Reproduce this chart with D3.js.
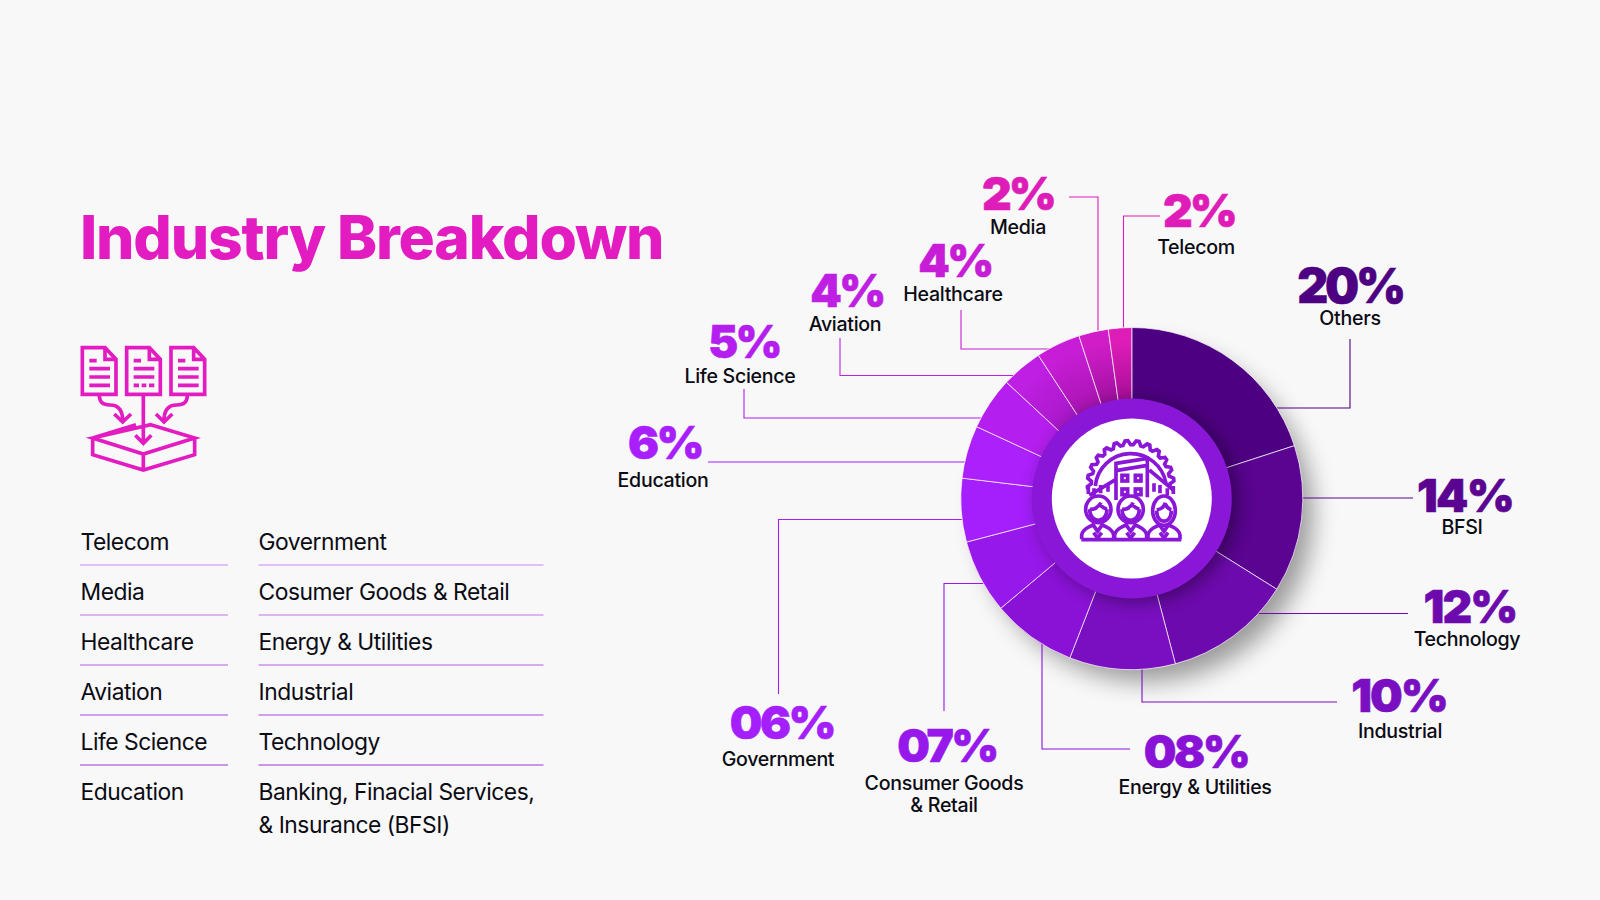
<!DOCTYPE html>
<html><head><meta charset="utf-8">
<script src="https://cdnjs.cloudflare.com/ajax/libs/d3/7.8.5/d3.min.js"></script>
<style>html,body{margin:0;padding:0;background:#f8f8f8;overflow:hidden}svg{display:block}text{font-family:Inter,"Noto Sans",sans-serif}</style>
</head><body><svg id="c" width="1600" height="900"></svg>
<script>
// ---- data ----
const categories = ["Others","BFSI","Technology","Industrial","Energy & Utilities","Consumer Goods|& Retail","Government","Education","Life Science","Aviation","Healthcare","Media","Telecom"];
const percentLabels = ["20%","14%","12%","10%","08%","07%","06%","6%","5%","4%","4%","2%","2%"];
// slice widths as drawn (measured from slice angles in the picture; the picture's slices differ slightly from its printed labels)
const sliceShares = [20,13.9,12,10,8,7,6,5,5,3.9,4.2,2.8,2.2];
const listLeft = ["Telecom","Media","Healthcare","Aviation","Life Science","Education"];
const listRight = ["Government","Cosumer Goods & Retail","Energy & Utilities","Industrial","Technology","Banking, Finacial Services,","& Insurance (BFSI)"];
const title = "Industry Breakdown";

// ---- styles and layout ----
const sliceColors = ["#4e0082","#5a0491","#6d0aad","#7a0fc1","#8a12d7","#9718ea","#a41ffb","#ab20fb","#b41eee","#bf1fe2","#c71dd6","#d01dc8","#de1cb8"];
const sliceInner = ["#4e0082","#5a0491","#6d0aad","#7a0fc1","#8a12d7","#9718ea","#a41ffb","#ab20fb","#b41eee","#a818c8","#a814b0","#a010a0","#a80e98"];
const textColors = ["#4e0082","#5a0491","#6d0aad","#7a0fc1","#8a12d7","#9718ea","#a41ffb","#a81ffb","#b41eee","#bf1fe2","#c71dd6","#de1cb8","#e01cb8"];
const cx=1131.8, cy=498.5, R=171, ringR=100, whiteR=80;
const magenta="#e21cc0", ringCol="#8a16d8";
// label centres and leader elbows; last leader leg runs to the pie rim
const layout = [
 {px:1350,py:286,fs:48,ls:-3.2,sx:1350,sy:318,pts:[[1350,339],[1350,408]],dir:"h"},
 {px:1465,py:495,fs:46,ls:-1.7,sx:1462,sy:527,pts:[[1413,498]],dir:"h"},
 {px:1470,py:606,fs:46,ls:-1.9,sx:1467,sy:639,pts:[[1408,613.5]],dir:"h"},
 {px:1399,py:695,fs:46,ls:-2,sx:1400,sy:731,pts:[[1337,702],[1142,702]],dir:"v"},
 {px:1196,py:751,fs:46,ls:-2.5,sx:1195,sy:787,pts:[[1130,749],[1042,749]],dir:"v"},
 {px:947,py:745,fs:46,ls:-2.5,sx:944,sy:783,pts:[[944,711],[944,583.5]],dir:"h"},
 {px:782,py:722,fs:46,ls:-2.5,sx:778,sy:759,pts:[[778.5,694],[778.5,519.5]],dir:"h"},
 {px:665,py:442,fs:46,ls:-2.6,sx:663,sy:480,pts:[[708,462]],dir:"h"},
 {px:744,py:342,fs:45,ls:-2.6,sx:740,sy:376,pts:[[744,389],[744,418]],dir:"h"},
 {px:847,py:291,fs:45,ls:-2.6,sx:845,sy:324,pts:[[840,338],[840,375.5]],dir:"h"},
 {px:955,py:261,fs:45,ls:-2.6,sx:953,sy:294,pts:[[961,310],[961,349]],dir:"h"},
 {px:1018,py:193,fs:46,ls:-2.8,sx:1018,sy:226.5,pts:[[1069,197],[1098,197]],dir:"v"},
 {px:1199,py:210,fs:46,ls:-2.8,sx:1196,sy:247,pts:[[1160,216],[1123.5,216]],dir:"v"}
];

const svg=d3.select("#c");
svg.append("rect").attr("width",1600).attr("height",900).attr("fill","#f8f8f8");
const defs=svg.append("defs");
const f1=defs.append("filter").attr("id","pieShadow").attr("x","-30%").attr("y","-30%").attr("width","160%").attr("height","160%");
f1.append("feGaussianBlur").attr("stdDeviation",12);
const f2=defs.append("filter").attr("id","ringShadow").attr("x","-40%").attr("y","-40%").attr("width","180%").attr("height","180%");
f2.append("feGaussianBlur").attr("stdDeviation",9);
sliceColors.forEach((c,i)=>{
  const rg=defs.append("radialGradient").attr("id","sl"+i).attr("gradientUnits","userSpaceOnUse").attr("cx",0).attr("cy",0).attr("r",R);
  rg.append("stop").attr("offset","0.58").attr("stop-color",sliceInner[i]);
  rg.append("stop").attr("offset","0.92").attr("stop-color",c);
});

// title
svg.append("text").attr("x",80).attr("y",259).attr("font-size",60.5).attr("font-weight",800).attr("letter-spacing",-1.17).attr("fill",magenta).text(title);

// document icon
const ic=svg.append("g").attr("transform","translate(60,330) scale(0.3333)").attr("fill","none").attr("stroke",magenta).attr("stroke-width",11);
[0,133,266].forEach((dx,i)=>{
  const d=ic.append("g").attr("transform",`translate(${dx},0)`);
  d.append("path").attr("d","M67,53H135L168,88V193H67Z M135,53V88H168");
  d.append("path").attr("d",i===1?"M88,92H110 M88,116H150 M88,141H150 M88,166H104 M112,166H126 M134,166H150":"M88,92H110 M88,116H150 M88,141H150 M88,166H150");
});
ic.append("path").attr("d","M118,196C118,222 135,225 150,225C175,225 188,240 188,272 M163,252L188,276L213,252 M250,196V340 M226,316L250,340L274,316 M382,196C382,222 365,225 350,225C325,225 312,240 312,272 M288,252L312,276L337,252 M98,324L228,284 M272,284L404,324L250,372L98,324Z M98,324V374L250,420L404,374V324 M250,372V420");

// list
const rowY=d3.scalePoint().domain(d3.range(6)).range([542,792]);
const listG=svg.append("g").attr("font-size",22.8).attr("fill","#0b0b14").attr("letter-spacing",-0.46);
listG.selectAll(".l").data(listLeft).join("text").attr("x",80.5).attr("y",(d,i)=>rowY(i)+7.5).text(d=>d);
listG.selectAll(".r").data(listRight).join("text").attr("x",258.5).attr("y",(d,i)=>i<6?rowY(i)+7.5:rowY(5)+40.5).text(d=>d);
const rules=svg.append("g").attr("stroke-width",1.1);
d3.range(5).forEach(i=>{
  const col=d3.interpolateRgb("#c985f5","#9a35dc")(i/4);
  rules.append("line").attr("x1",80).attr("x2",228).attr("y1",rowY(i)+23).attr("y2",rowY(i)+23).attr("stroke",col);
  rules.append("line").attr("x1",258.5).attr("x2",543.5).attr("y1",rowY(i)+23).attr("y2",rowY(i)+23).attr("stroke",col);
});

// pie shadow
svg.append("circle").attr("cx",cx+14).attr("cy",cy+16).attr("r",R-4).attr("fill","#000").attr("opacity",0.38).attr("filter","url(#pieShadow)");

// leaders: end on the rim
const leaders=svg.append("g").attr("fill","none").attr("stroke-width",1.1);
layout.forEach((l,i)=>{
  const last=l.pts[l.pts.length-1];
  let end;
  if(l.dir==="h"){const dy=last[1]-cy;const dx=Math.sqrt(R*R-dy*dy);end=[cx+(last[0]>cx?dx:-dx)-(last[0]>cx?1:-1),last[1]];}
  else{const dx=last[0]-cx;const dy=Math.sqrt(R*R-dx*dx);end=[last[0],cy+(last[1]>cy?dy:-dy)];}
  leaders.append("path").attr("d",d3.line()([...l.pts,end])).attr("stroke",textColors[i]);
});

// pie
const pie=d3.pie().value(d=>d).sort(null);
const arc=d3.arc().innerRadius(ringR-4).outerRadius(R);
const g=svg.append("g").attr("transform",`translate(${cx},${cy})`);
g.selectAll("path").data(pie(sliceShares)).join("path").attr("d",arc).attr("fill",(d,i)=>`url(#sl${i})`).attr("stroke","#fff").attr("stroke-width",0.7);

// ring with shadow cast on slices
const clipId="pieClip";
defs.append("clipPath").attr("id",clipId).append("circle").attr("r",R-1);
g.append("g").attr("clip-path",`url(#${clipId})`).append("circle").attr("cx",6).attr("cy",3).attr("r",ringR).attr("fill","#000").attr("opacity",0.42).attr("filter","url(#ringShadow)");
g.append("circle").attr("r",ringR).attr("fill",ringCol);
g.append("circle").attr("r",whiteR).attr("fill","#fff");

// centre icon
const ci=svg.append("g").attr("transform","translate(1040,420) scale(0.3333)").attr("fill","none").attr("stroke",ringCol).attr("stroke-width",11).attr("stroke-linejoin","miter");
const gear=[]; const gc=[272,192], gr0=118, gr1=130, teeth=13;
const ga=d3.scaleLinear().domain([0,teeth*4]).range([-Math.PI*1.04,Math.PI*0.04]);
d3.range(teeth*4+1).forEach(k=>{const r=(k%4===0||k%4===1)?gr1:gr0;const a=ga(k);gear.push([gc[0]+r*Math.cos(a),gc[1]+r*Math.sin(a)]);});
ci.append("path").attr("d",d3.line()(gear));
ci.append("path").attr("d","M166,198A107,107 0 0 1 378,190 M145,198V222 M400,198V222");
ci.append("path").attr("d","M228,240V130L322,115V232 M228,152L322,136 M148,226L228,178 M328,150L402,212");
ci.selectAll(".w").data([[246,166],[286,166],[246,207],[286,207]]).join("rect").attr("x",d=>d[0]).attr("y",d=>d[1]).attr("width",17).attr("height",17);
ci.append("path").attr("d","M162,225V205 M182,220V195 M204,215V190 M342,215V190 M360,220V195 M382,225V205");
[[173,50],[272,50],[372,50]].forEach(s=>{
  ci.append("path").attr("fill","#fff").attr("d",`M${s[0]-s[1]+2},358V345C${s[0]-s[1]+5},325 ${s[0]-25},322 ${s[0]-14},314L${s[0]},334L${s[0]+14},314C${s[0]+25},322 ${s[0]+s[1]-5},325 ${s[0]+s[1]-2},345V358 M${s[0]-12},338L${s[0]},354L${s[0]+12},338`);
});
[[175,268],[272,268],[372,272]].forEach((h,i)=>{
  ci.append("ellipse").attr("cx",h[0]).attr("cy",h[1]).attr("rx",i===2?34:38).attr("ry",i===2?44:40).attr("fill","#fff");
  ci.append("ellipse").attr("cx",h[0]).attr("cy",h[1]+6).attr("rx",i===2?24:26).attr("ry",30).attr("fill","#fff").attr("stroke-width",0);
  ci.append("path").attr("d",i===2?`M${h[0]-22},${h[1]-2}Q${h[0]},${h[1]-6} ${h[0]+4},${h[1]-24} M${h[0]+4},${h[1]-20}Q${h[0]+10},${h[1]-6} ${h[0]+22},${h[1]-2} M${h[0]-22},${h[1]}C${h[0]-22},${h[1]+42} ${h[0]+22},${h[1]+42} ${h[0]+22},${h[1]}`:`M${h[0]-26},${h[1]}Q${h[0]-5},${h[1]+2} ${h[0]+8},${h[1]-20} M${h[0]+5},${h[1]-14}Q${h[0]+14},${h[1]-4} ${h[0]+26},${h[1]} M${h[0]-26},${h[1]}C${h[0]-26},${h[1]+44} ${h[0]+26},${h[1]+44} ${h[0]+26},${h[1]}`);
});
ci.append("path").attr("d","M124,359H424");

// labels
const lab=svg.append("g").attr("text-anchor","middle");
layout.forEach((l,i)=>{
  lab.append("text").attr("x",l.px).attr("y",l.py+l.fs*0.36).attr("font-size",l.fs).attr("font-weight",900).attr("letter-spacing",l.ls).attr("fill",textColors[i]).attr("stroke",textColors[i]).attr("stroke-width",0.6).text(percentLabels[i]);
  categories[i].split("|").forEach((t,j)=>{
    lab.append("text").attr("x",l.sx).attr("y",l.sy+7+j*21.5).attr("font-size",19.6).attr("font-weight",500).attr("fill","#0b0b14").attr("letter-spacing",-0.3).text(t);
  });
});
</script></body></html>
